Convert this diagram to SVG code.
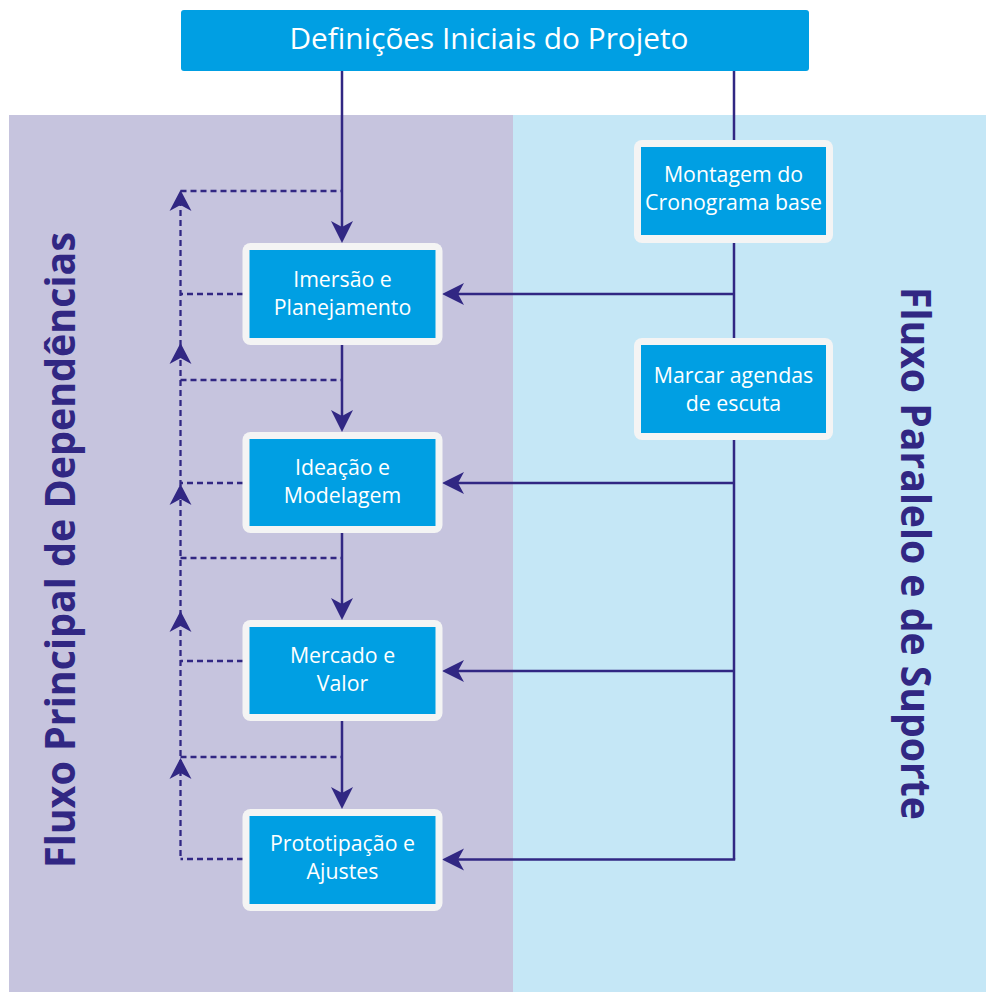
<svg xmlns="http://www.w3.org/2000/svg" xmlns:xlink="http://www.w3.org/1999/xlink" width="986" height="992" viewBox="0 0 986 992">
<style>
.bt{font-family:"Open Sans","Noto Sans",sans-serif;font-size:21.3px;fill:#ffffff;text-anchor:middle}
.title{font-family:"Open Sans","Noto Sans",sans-serif;font-size:42px;font-weight:700;fill:#312783;text-anchor:middle}
.outer{fill:#f4f4f4}
.inner{fill:#009fe3}
.solid{fill:none;stroke:#312783;stroke-width:2.5}
.dash{fill:none;stroke:#312783;stroke-width:2.3;stroke-dasharray:6 4}
</style>
<defs>
<marker id="ah" viewBox="-13 -12 24 24" markerWidth="24" markerHeight="24" refX="0" refY="0" orient="auto" markerUnits="userSpaceOnUse">
<path d="M10,0 L-12,-11 L-6,0 L-12,11 Z" fill="#312783"/>
</marker>
<path id="upHead" d="M0,0 L-11,21 L0,15 L11,21 Z" fill="#312783"/>
</defs>
<rect x="0" y="0" width="986" height="992" fill="#ffffff"/>
<g id="panels">
<rect x="9" y="115" width="504" height="877" fill="#c6c4de"/>
<rect x="513" y="115" width="473" height="877" fill="#c5e7f6"/>
</g>
<g id="titles">
<text class="title" transform="translate(75,550) rotate(-90)" textLength="636" lengthAdjust="spacingAndGlyphs">Fluxo Principal de Dependências</text>
<text class="title" transform="translate(901,553.5) rotate(90)" textLength="533" lengthAdjust="spacingAndGlyphs">Fluxo Paralelo e de Suporte</text>
</g>
<g id="connectors">
<path class="solid" d="M342,71 V233" marker-end="url(#ah)"/>
<path class="solid" d="M342,345 V422" marker-end="url(#ah)"/>
<path class="solid" d="M342,533 V610" marker-end="url(#ah)"/>
<path class="solid" d="M342,721 V799" marker-end="url(#ah)"/>
<path class="solid" d="M734,71 V141"/>
<path class="solid" d="M734,242 V339"/>
<path class="solid" d="M734,439 V859.5"/>
<path class="solid" d="M734,294 H452" marker-end="url(#ah)"/>
<path class="solid" d="M734,483 H452" marker-end="url(#ah)"/>
<path class="solid" d="M734,671 H452" marker-end="url(#ah)"/>
<path class="solid" d="M735.2,859.5 H452" marker-end="url(#ah)"/>
<path class="dash" d="M180.5,200 V859"/>
<path class="dash" d="M180.5,191 H342"/>
<path class="dash" d="M243,294 H180.5"/>
<path class="dash" d="M180.5,380 H342"/>
<path class="dash" d="M243,483 H180.5"/>
<path class="dash" d="M180.5,558 H342"/>
<path class="dash" d="M243,661 H180.5"/>
<path class="dash" d="M180.5,757 H342"/>
<path class="dash" d="M243,859 H180.5"/>
<use xlink:href="#upHead" x="180.5" y="190"/>
<use xlink:href="#upHead" x="180.5" y="343"/>
<use xlink:href="#upHead" x="180.5" y="484"/>
<use xlink:href="#upHead" x="180.5" y="611"/>
<use xlink:href="#upHead" x="180.5" y="758"/>
</g>
<g id="definicoes">
<rect x="181" y="10" width="628" height="61" rx="3" fill="#009fe3"/>
<text x="489" y="49" style="font-family:'Open Sans','Noto Sans',sans-serif;font-size:28.5px;fill:#fff;text-anchor:middle" textLength="399" lengthAdjust="spacingAndGlyphs">Definições Iniciais do Projeto</text>
</g>
<g id="imersao">
<rect class="outer" x="242.5" y="243" width="200" height="102" rx="8"/>
<rect class="inner" x="249.5" y="250" width="186" height="88"/>
<text class="bt" x="342.5" y="286.5">Imersão e</text>
<text class="bt" x="342.5" y="314.5">Planejamento</text>
</g>
<g id="ideacao">
<rect class="outer" x="242.5" y="432" width="200" height="101" rx="8"/>
<rect class="inner" x="249.5" y="439" width="186" height="87"/>
<text class="bt" x="342.5" y="475">Ideação e</text>
<text class="bt" x="342.5" y="503">Modelagem</text>
</g>
<g id="mercado">
<rect class="outer" x="242.5" y="620" width="200" height="101" rx="8"/>
<rect class="inner" x="249.5" y="627" width="186" height="87"/>
<text class="bt" x="342.5" y="663">Mercado e</text>
<text class="bt" x="342.5" y="691">Valor</text>
</g>
<g id="prototipacao">
<rect class="outer" x="242.5" y="809" width="200" height="102" rx="8"/>
<rect class="inner" x="249.5" y="816" width="186" height="88"/>
<text class="bt" x="342.5" y="851">Prototipação e</text>
<text class="bt" x="342.5" y="879">Ajustes</text>
</g>
<g id="montagem">
<rect class="outer" x="634" y="140" width="199" height="103" rx="8"/>
<rect class="inner" x="641" y="147" width="185" height="88"/>
<text class="bt" x="733.5" y="182">Montagem do</text>
<text class="bt" x="733.5" y="210">Cronograma base</text>
</g>
<g id="marcar">
<rect class="outer" x="634" y="338" width="199" height="102" rx="8"/>
<rect class="inner" x="641" y="345" width="185" height="88"/>
<text class="bt" x="733.5" y="383">Marcar agendas</text>
<text class="bt" x="733.5" y="411">de escuta</text>
</g>
</svg>
